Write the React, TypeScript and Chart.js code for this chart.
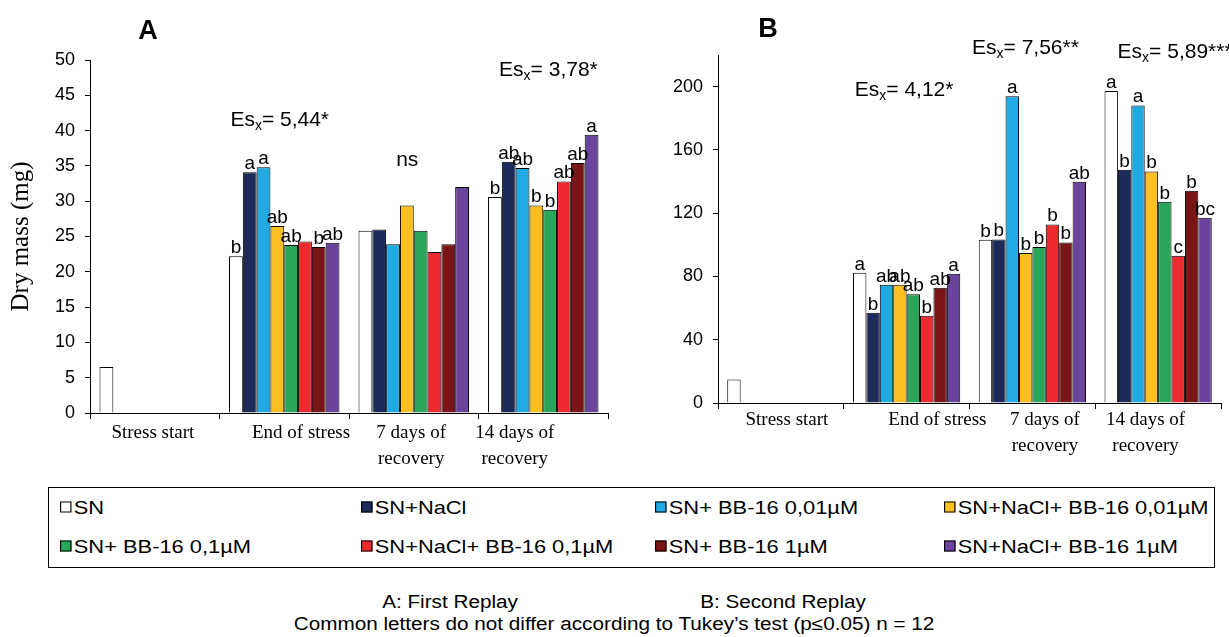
import React, { useEffect, useRef } from "react";
import { Chart, registerables } from "chart.js";
Chart.register(...registerables);

// ---------- DATA ----------
const categories: string[][] = [
  ["Stress start"],
  ["End of stress"],
  ["7 days of", "recovery"],
  ["14 days of", "recovery"],
];

const seriesNames = [
  "SN",
  "SN+NaCl",
  "SN+ BB-16 0,01µM",
  "SN+NaCl+ BB-16 0,01µM",
  "SN+ BB-16 0,1µM",
  "SN+NaCl+ BB-16 0,1µM",
  "SN+ BB-16 1µM",
  "SN+NaCl+ BB-16 1µM",
];

const seriesColors = [
  "#ffffff",
  "#1c2b59",
  "#20a9e2",
  "#fbbf22",
  "#2aa65b",
  "#ed2a2f",
  "#7a1518",
  "#6a449c",
];

// Panel A (First Replay) – dry mass (mg), one array per series across categories
const aSN = [6.5, 22.2, 25.8, 30.6];
const aNaCl = [null, 34.1, 26.0, 35.6];
const aBB001 = [null, 34.8, 23.9, 34.7];
const aNaClBB001 = [null, 26.5, 29.4, 29.4];
const aBB01 = [null, 23.8, 25.8, 28.8];
const aNaClBB01 = [null, 24.3, 22.8, 32.8];
const aBB1 = [null, 23.5, 23.9, 35.4];
const aNaClBB1 = [null, 24.1, 32.0, 39.4];

// Panel B (Second Replay)
const bSN = [14.8, 82.4, 103.2, 197.3];
const bNaCl = [null, 57.0, 103.4, 147.4];
const bBB001 = [null, 74.8, 193.9, 188.1];
const bNaClBB001 = [null, 74.8, 94.8, 146.4];
const bBB01 = [null, 68.7, 98.6, 127.2];
const bNaClBB01 = [null, 55.2, 112.9, 93.1];
const bBB1 = [null, 72.9, 101.5, 134.2];
const bNaClBB1 = [null, 81.7, 139.9, 117.1];

// Tukey letters (per series, per category)
const aLetters = [
  ["", "b", "", "b"],
  ["", "a", "", "ab"],
  ["", "a", "", "ab"],
  ["", "ab", "", "b"],
  ["", "ab", "", "b"],
  ["", "", "", "ab"],
  ["", "b", "", "ab"],
  ["", "ab", "", "a"],
];
const bLetters = [
  ["", "a", "b", "a"],
  ["", "b", "b", "b"],
  ["", "ab", "a", "a"],
  ["", "ab", "b", "b"],
  ["", "ab", "b", "b"],
  ["", "b", "b", "c"],
  ["", "ab", "b", "b"],
  ["", "a", "ab", "bc"],
];

// Y ticks
const aTicks = [0, 5, 10, 15, 20, 25, 30, 35, 40, 45, 50];
const bTicks = [0, 40, 80, 120, 160, 200];

// Category label shifts (fraction of a category width), as placed in the figure
const aLabelShift = [-0.015, 0.13, -0.02, -0.22];
const bLabelShift = [0.048, 0.245, 0.1, -0.1];

// Statistical notes: category index, value where drawn
const aNotes = [
  { cat: 1, dx: -0.035, value: 41.5, es: "= 5,44*" },
  { cat: 2, dx: -0.05, value: 35.8, text: "ns" },
  { cat: 3, dx: 0.04, value: 48.6, es: "= 3,78*" },
];
const bNotes = [
  { cat: 1, dx: -0.02, value: 197.5, es: "= 4,12*" },
  { cat: 2, dx: -0.055, value: 224.5, es: "= 7,56**" },
  { cat: 3, dx: 0.135, value: 221.6, es: "= 5,89***" },
];

const aValues = [aSN, aNaCl, aBB001, aNaClBB001, aBB01, aNaClBB01, aBB1, aNaClBB1];
const bValues = [bSN, bNaCl, bBB001, bNaClBB001, bBB01, bNaClBB01, bBB1, bNaClBB1];

// ---------- PLUGIN ----------
const SANS = '"Liberation Sans", Arial, sans-serif';
const SERIF = '"Liberation Serif", "Times New Roman", serif';

const notesPlugin = {
  id: "notes",
  afterDatasetsDraw(chart: any, _args: any, opts: any) {
    const ctx = chart.ctx;
    const xs = chart.scales.x;
    const ys = chart.scales.y;
    ctx.save();
    ctx.fillStyle = "#000";
    ctx.textAlign = "center";
    ctx.textBaseline = "alphabetic";
    ctx.font = `19px ${SANS}`;
    chart.data.datasets.forEach((_ds: any, di: number) => {
      const meta = chart.getDatasetMeta(di);
      meta.data.forEach((bar: any, i: number) => {
        const l = opts.letters[di][i];
        if (!l) return;
        ctx.fillText(l, bar.x, bar.y - 3);
      });
    });
    const catW = xs.width / categories.length;
    for (const n of opts.notes) {
      const cx = xs.getPixelForValue(n.cat) + n.dx * catW;
      const cy = ys.getPixelForValue(n.value);
      ctx.textBaseline = "middle";
      if (n.text) {
        ctx.textAlign = "center";
        ctx.font = `21px ${SANS}`;
        ctx.fillText(n.text, cx, cy);
        continue;
      }
      ctx.textAlign = "left";
      ctx.font = `21px ${SANS}`;
      const w1 = ctx.measureText("Es").width;
      const w3 = ctx.measureText(n.es).width;
      ctx.font = `14px ${SANS}`;
      const w2 = ctx.measureText("x").width;
      let x0 = cx - (w1 + w2 + w3) / 2;
      ctx.font = `21px ${SANS}`;
      ctx.fillText("Es", x0, cy);
      x0 += w1;
      ctx.font = `14px ${SANS}`;
      ctx.fillText("x", x0, cy + 6);
      x0 += w2;
      ctx.font = `21px ${SANS}`;
      ctx.fillText(n.es, x0, cy);
    }
    // category labels
    ctx.textAlign = "center";
    ctx.textBaseline = "middle";
    ctx.font = `19px ${SERIF}`;
    categories.forEach((lines, i) => {
      const cx = xs.getPixelForValue(i) + opts.labelShift[i] * catW;
      lines.forEach((line, k) => {
        ctx.fillText(line, cx, xs.top + opts.labelTop + k * 26.5);
      });
    });
    ctx.restore();
  },
};

type PanelProps = {
  values: (number | null)[][];
  letters: string[][];
  notes: any[];
  ticks: number[];
  labelShift: number[];
  yMax: number;
  yTitle: boolean;
  left: number;
  width: number;
  height: number;
  yWidth: number;
  xHeight: number;
  padTop: number;
  padRight: number;
  labelTop: number;
};

function Panel(p: PanelProps) {
  const ref = useRef<HTMLCanvasElement>(null);
  useEffect(() => {
    const chart = new Chart(ref.current as HTMLCanvasElement, {
      type: "bar",
      data: {
        labels: categories,
        datasets: p.values.map((v, i) => ({
          label: seriesNames[i],
          data: v,
          backgroundColor: seriesColors[i],
          borderColor: "#000",
          borderWidth: 1,
          categoryPercentage: 0.853,
          barPercentage: 1,
        })),
      },
      options: {
        animation: false,
        responsive: false,
        devicePixelRatio: 1,
        layout: { padding: { top: p.padTop, right: p.padRight, left: 0, bottom: 0 } },
        plugins: {
          legend: { display: false },
          tooltip: { enabled: false },
          notes: { letters: p.letters, notes: p.notes, labelShift: p.labelShift, labelTop: p.labelTop },
        } as any,
        scales: {
          x: {
            grid: {
              display: true,
              drawOnChartArea: false,
              drawTicks: true,
              tickLength: 6,
              color: "#000",
              offset: true,
            },
            border: { color: "#000", width: 1 },
            ticks: { display: false },
            afterFit: (s: any) => {
              s.height = p.xHeight;
            },
          },
          y: {
            min: 0,
            max: p.yMax,
            afterBuildTicks: (axis: any) => {
              axis.ticks = p.ticks.map((v) => ({ value: v }));
            },
            grid: { drawOnChartArea: false, tickLength: 5, color: "#000" },
            border: { color: "#000", width: 1 },
            ticks: {
              color: "#000",
              font: { family: SANS, size: 18 },
              padding: 10,
            },
            title: {
              display: p.yTitle,
              text: "Dry mass (mg)",
              color: "#000",
              font: { family: SERIF, size: 25 },
              padding: { top: 6, bottom: 0 },
            },
            afterFit: (s: any) => {
              s.width = p.yWidth;
            },
          },
        },
      },
      plugins: [notesPlugin],
    });
    return () => chart.destroy();
  }, []);
  return (
    <canvas
      ref={ref}
      width={p.width}
      height={p.height}
      style={{ position: "absolute", left: p.left, top: 0, width: p.width, height: p.height }}
    />
  );
}

const legendCols = [60, 361, 655, 944];
const legendRows = [507, 546];

export default function App() {
  const txt: React.CSSProperties = {
    position: "absolute",
    fontFamily: SANS,
    color: "#000",
    whiteSpace: "nowrap",
    lineHeight: 1,
  };
  return (
    <div
      style={{
        position: "absolute",
        left: 0,
        top: 0,
        width: 1229,
        height: 637,
        background: "#fff",
        overflow: "hidden",
      }}
    >
      <Panel
        values={aValues}
        letters={aLetters}
        notes={aNotes}
        ticks={aTicks}
        labelShift={aLabelShift}
        yMax={50}
        yTitle={true}
        left={0}
        width={615}
        height={480}
        yWidth={90}
        xHeight={67}
        padTop={60}
        padRight={7}
        labelTop={20}
      />
      <Panel
        values={bValues}
        letters={bLetters}
        notes={bNotes}
        ticks={bTicks}
        labelShift={bLabelShift}
        yMax={220}
        yTitle={false}
        left={620}
        width={609}
        height={480}
        yWidth={98}
        xHeight={77}
        padTop={55}
        padRight={8}
        labelTop={17}
      />
      <div style={{ ...txt, left: 148, top: 30, transform: "translate(-50%,-50%)", fontWeight: "bold", fontSize: 27 }}>A</div>
      <div style={{ ...txt, left: 768, top: 28, transform: "translate(-50%,-50%)", fontWeight: "bold", fontSize: 27 }}>B</div>

      <div
        style={{
          position: "absolute",
          left: 48,
          top: 487,
          width: 1167,
          height: 81,
          border: "1.5px solid #000",
          boxSizing: "border-box",
        }}
      />
      {seriesNames.map((name, i) => (
        <div
          key={name}
          style={{
            ...txt,
            left: legendCols[i % 4],
            top: legendRows[Math.floor(i / 4)],
            transform: "translateY(-50%) scaleX(1.15)",
            transformOrigin: "left center",
            fontSize: 19,
            display: "flex",
            alignItems: "center",
          }}
        >
          <span
            style={{
              display: "inline-block",
              width: 8,
              height: 9,
              border: "1px solid #000",
              background: seriesColors[i],
              marginRight: 2,
            }}
          />
          <span>{name}</span>
        </div>
      ))}

      <div style={{ ...txt, left: 450, top: 602, transform: "translate(-50%,-50%) scaleX(1.15)", fontSize: 18 }}>A: First Replay</div>
      <div style={{ ...txt, left: 783, top: 602, transform: "translate(-50%,-50%) scaleX(1.15)", fontSize: 18 }}>B: Second Replay</div>
      <div style={{ ...txt, left: 614, top: 624, transform: "translate(-50%,-50%) scaleX(1.15)", fontSize: 18 }}>
        Common letters do not differ according to Tukey’s test (p≤0.05) n = 12
      </div>
    </div>
  );
}
